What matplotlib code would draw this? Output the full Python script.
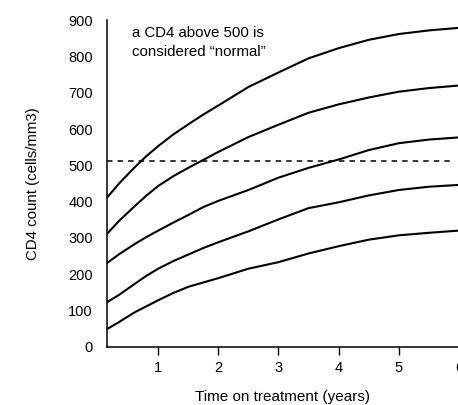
import matplotlib
matplotlib.use("Agg")
import matplotlib.pyplot as plt

plt.rcParams['font.family'] = ['Liberation Sans', 'DejaVu Sans']

years = [0.144, 0.35, 0.6, 0.8, 1.0, 1.25, 1.5, 1.75, 2.0, 2.5, 3.0, 3.5, 4.0, 4.5, 5.0, 5.5, 6.0]
curve_a = [410, 450, 493, 525, 553, 585, 613, 640, 665, 716, 756, 795, 823, 846, 862, 872, 879]
curve_b = [310, 347, 386, 416, 443, 470, 493, 515, 537, 578, 612, 645, 668, 687, 703, 713, 720]
curve_c = [230, 255, 282, 302, 320, 342, 363, 385, 402, 432, 466, 493, 516, 542, 561, 571, 577]
curve_d = [122, 143, 172, 195, 215, 236, 254, 272, 288, 318, 351, 382, 398, 417, 432, 441, 446]
curve_e = [48, 68, 94, 111, 128, 148, 165, 177, 189, 215, 233, 257, 277, 295, 307, 314, 320]
normal_threshold = 513
x_ticks = [1, 2, 3, 4, 5, 6]
y_ticks = [0, 100, 200, 300, 400, 500, 600, 700, 800, 900]

fig = plt.figure(figsize=(4.58, 4.05), dpi=100)
ax = fig.add_axes([0.233, 0.144, 1.002 - 0.233, 0.950 - 0.144])

for c in [curve_a, curve_b, curve_c, curve_d, curve_e]:
    ax.plot(years, c, color='black', lw=1.5, solid_capstyle='butt',
            solid_joinstyle='round')

ax.plot([years[0], 5.9], [normal_threshold, normal_threshold], color='black',
        lw=1.1, dashes=(3.6, 3.3))

ax.set_xlim(years[0], 6.0)
ax.set_ylim(0, 900)
ax.set_xticks(x_ticks)
ax.set_yticks(y_ticks)
ax.tick_params(axis='x', direction='out', length=6, width=1.0, labelsize=10.5, pad=4)
ax.tick_params(axis='y', length=0, labelsize=10.5, pad=10)
for s in ['top', 'right']:
    ax.spines[s].set_visible(False)
for s in ['left', 'bottom']:
    ax.spines[s].set_linewidth(1.1)

ax.set_xlabel('Time on treatment (years)', fontsize=11, labelpad=11)
ax.set_ylabel('CD4 count (cells/mm3)', fontsize=10.8, labelpad=20)

ax.text(0.57, 864, 'a CD4 above 500 is', fontsize=10.8, va='center', ha='left')
ax.text(0.57, 812, 'considered \u201cnormal\u201d', fontsize=10.8, va='center', ha='left')

fig.savefig('out.png', dpi=100)
